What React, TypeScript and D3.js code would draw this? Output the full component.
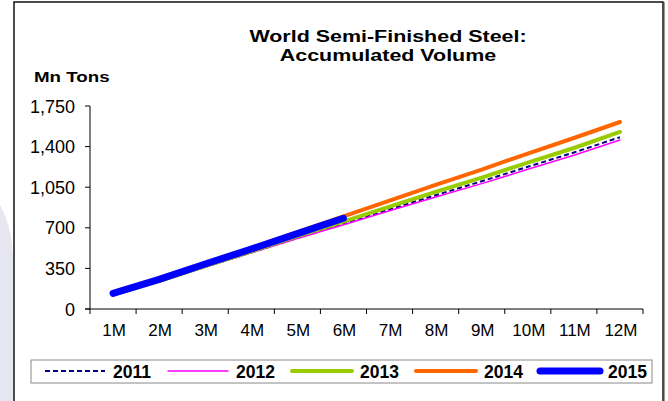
import React from "react";
import * as d3 from "d3";

const months = ["1M", "2M", "3M", "4M", "5M", "6M", "7M", "8M", "9M", "10M", "11M", "12M"];
const yTicks = [0, 350, 700, 1050, 1400, 1750];

const s2011 = [124, 237, 363, 487, 613, 735, 858, 981, 1101, 1226, 1349, 1481];
const s2012 = [122, 237, 362, 484, 608, 727, 847, 966, 1081, 1204, 1326, 1457];
const s2013 = [125, 240, 370, 497, 628, 754, 882, 1010, 1133, 1262, 1388, 1526];
const s2014 = [132, 253, 388, 524, 662, 798, 934, 1070, 1202, 1340, 1474, 1612];
const s2015 = [135, 255, 388, 517, 650, 782];

const series = [
  { name: "2011", values: s2011, color: "#000080", width: 2, dash: "5,3" },
  { name: "2012", values: s2012, color: "#FF00FF", width: 1.5, dash: "" },
  { name: "2013", values: s2013, color: "#99CC00", width: 4, dash: "" },
  { name: "2014", values: s2014, color: "#FF6600", width: 4, dash: "" },
  { name: "2015", values: s2015, color: "#0000FF", width: 7, dash: "" },
];

const font = "'Liberation Sans', Arial, sans-serif";

function SText({ x, y, sx, size, bold, anchor, children }: any) {
  return (
    <text
      transform={`translate(${x},${y}) scale(${sx},1)`}
      textAnchor={anchor || "start"}
      fontFamily={font}
      fontWeight={bold ? "bold" : "normal"}
      fontSize={size}
    >
      {children}
    </text>
  );
}

export default function App() {
  const W = 668, H = 401;
  const x0 = 90, x1 = 643, yTop = 106, yBot = 309;
  const x = d3.scaleBand().domain(months).range([x0, x1]);
  const y = d3.scaleLinear().domain([0, 1750]).range([yBot, yTop]);
  const line = d3
    .line<number>()
    .x((_, i) => (x(months[i]) as number) + x.bandwidth() / 2)
    .y((d) => y(d));

  const legendX = [45, 168, 292, 416, 540];
  const legendY = 371;

  return (
    <svg width={W} height={H} style={{ position: "absolute", left: 0, top: 0 }}>
      <rect x={0} y={0} width={W} height={H} fill="#fff" />
      <path d="M0,205 Q13,228 13,262 L13,401 L0,401 Z" fill="#E6E6F0" />
      <rect x={14} y={2} width={649} height={410} fill="#fff" stroke="#111" strokeWidth={1.5} />
      <line x1={664.5} y1={2} x2={664.5} y2={401} stroke="#999" strokeWidth={1} />

      <SText x={388} y={42} sx={1.3} size={16.5} bold anchor="middle">
        World Semi-Finished Steel:
      </SText>
      <SText x={388} y={61} sx={1.3} size={16.5} bold anchor="middle">
        Accumulated Volume
      </SText>
      <SText x={34} y={82} sx={1.25} size={15} bold>
        Mn Tons
      </SText>

      {/* axes */}
      <line x1={x0} y1={yTop} x2={x0} y2={yBot} stroke="#000" strokeWidth={1} />
      <line x1={x0 - 5} y1={yBot} x2={x1} y2={yBot} stroke="#000" strokeWidth={1} />
      {yTicks.map((t) => (
        <g key={t}>
          <line x1={x0 - 5} x2={x0} y1={y(t)} y2={y(t)} stroke="#000" />
          <text x={75} y={y(t) + 6.5} textAnchor="end" fontFamily={font} fontSize={18}>
            {d3.format(",")(t)}
          </text>
        </g>
      ))}
      {months.map((m, i) => (
        <g key={m}>
          <line x1={x(m) as number} x2={x(m) as number} y1={yBot} y2={yBot + 5} stroke="#000" />
          {i === months.length - 1 && (
            <line x1={x1} x2={x1} y1={yBot} y2={yBot + 5} stroke="#000" />
          )}
          <text
            x={(x(m) as number) + x.bandwidth() / 2 + 1}
            y={336}
            textAnchor="middle"
            fontFamily={font}
            fontSize={17}
          >
            {m}
          </text>
        </g>
      ))}

      {series.map((s) => (
        <path
          key={s.name}
          d={line(s.values) as string}
          fill="none"
          stroke={s.color}
          strokeWidth={s.width}
          strokeDasharray={s.dash || undefined}
          strokeLinecap={s.dash ? "butt" : "round"}
        />
      ))}

      {/* legend */}
      <rect x={31} y={360} width={621} height={23} fill="#fff" stroke="#888" strokeWidth={1} />
      {series.map((s, i) => (
        <g key={s.name}>
          <line
            x1={legendX[i]}
            x2={legendX[i] + 60}
            y1={legendY}
            y2={legendY}
            stroke={s.color}
            strokeWidth={s.width}
            strokeDasharray={s.dash || undefined}
            strokeLinecap={s.dash ? "butt" : "round"}
          />
          <text x={legendX[i] + 68} y={legendY + 6.5} fontFamily={font} fontWeight="bold" fontSize={17.5}>
            {s.name}
          </text>
        </g>
      ))}
    </svg>
  );
}
